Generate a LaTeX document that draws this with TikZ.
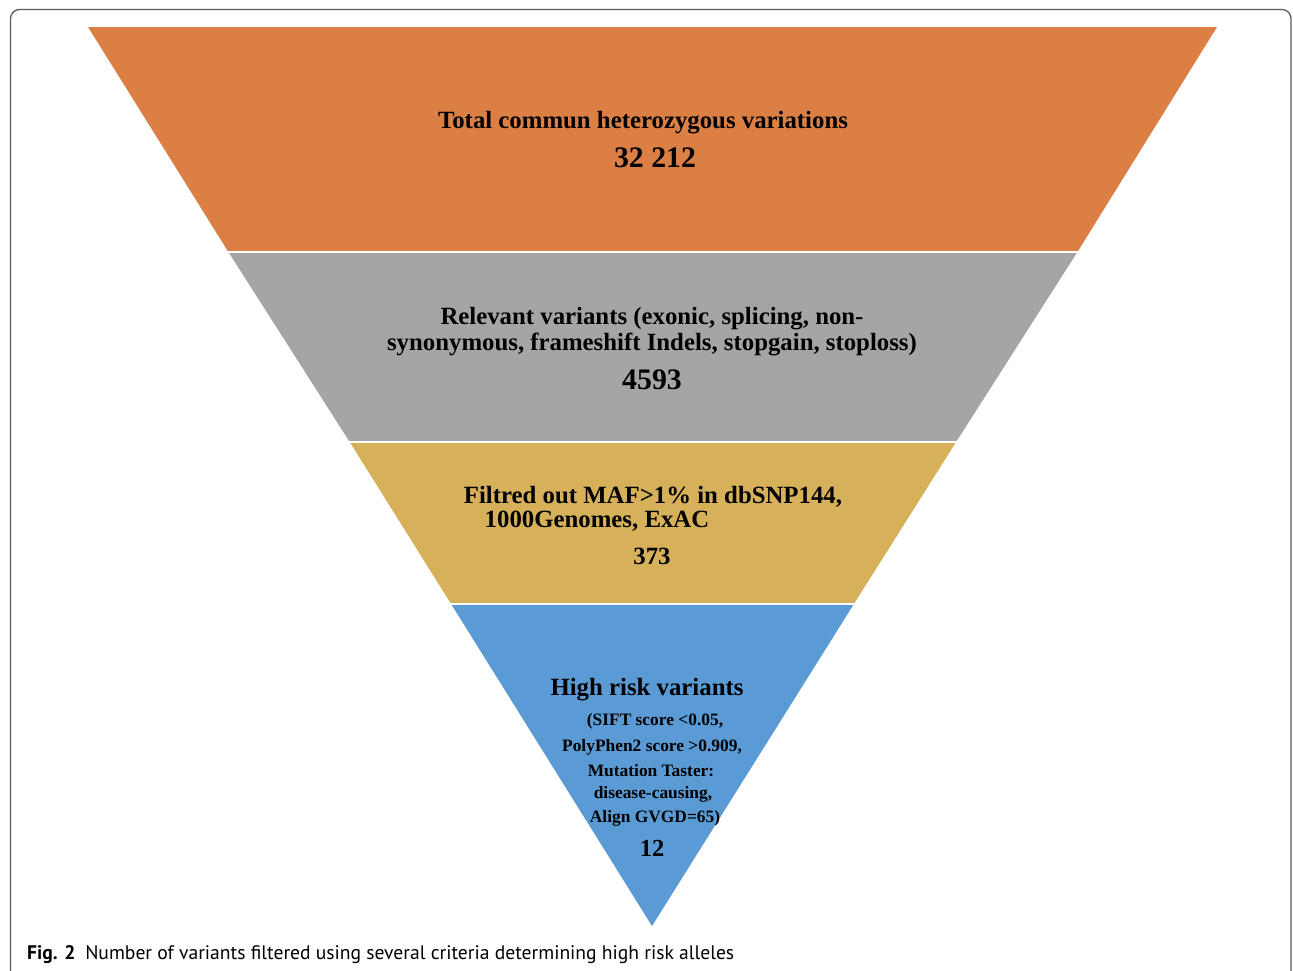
\documentclass[tikz,border=0pt]{standalone}
\usepackage{fontspec}
\setmainfont{Liberation Serif}
\newfontfamily\capfont{PT Sans}
\definecolor{cOrange}{HTML}{DC7F45}
\definecolor{cGray}{HTML}{A5A5A5}
\definecolor{cGold}{HTML}{D7B15A}
\definecolor{cBlue}{HTML}{5B9BD5}
\definecolor{cFrame}{HTML}{5A5A5A}
\tikzset{
  lab/.style={font=\bfseries\fontsize{24.8}{28}\selectfont, inner sep=0pt, anchor=center},
  big/.style={font=\bfseries\fontsize{29.8}{34}\selectfont, inner sep=0pt, anchor=center},
  small/.style={font=\bfseries\fontsize{17.4}{20}\selectfont, inner sep=0pt, anchor=center},
  gap/.style={draw=white, line width=2.5pt}
}
\begin{document}
\begin{tikzpicture}[x=1pt,y=-1pt]
\useasboundingbox (0,0) rectangle (1293,970);
% frame
\begin{scope}
\clip (0,0) rectangle (1293,970);
\draw[cFrame, line width=1.3pt, rounded corners=9pt] (10.5,9.5) rectangle (1291,1010);
\end{scope}
% funnel
\coordinate (AP) at (652,926);
\fill[cOrange] (88,27) -- (1217,27) -- (1077.4,252) -- (228.4,252) -- cycle;
\fill[cGray] (228.4,252) -- (1077.4,252) -- (956.1,442) -- (349.7,442) -- cycle;
\fill[cGold] (349.7,442) -- (956.1,442) -- (853.9,604) -- (451.1,604) -- cycle;
\fill[cBlue] (451.1,604) -- (853.9,604) -- (AP) -- cycle;
\draw[gap] (200,252) -- (1100,252);
\draw[gap] (300,442) -- (1000,442);
\draw[gap] (400,604) -- (900,604);
% texts
\node[lab] (t1) at (643,123) {Total commun heterozygous variations};
\node[big] (n1) at (655,158) {32 212};
\node[lab] (t2a) at (652,319) {Relevant variants (exonic, splicing, non-};
\node[lab] (t2b) at (652,344) {synonymous, frameshift Indels, stopgain, stoploss)};
\node[big] (n2) at (652,380) {4593};
\node[lab] (t3a) at (653,496.5) {Filtred out MAF>1\% in dbSNP144,};
\node[lab] (t3b) at (597,521.5) {1000Genomes, ExAC};
\node[lab] (n3) at (652,556) {373};
\node[lab] (t4) at (647,690) {High risk variants};
\node[small] (t4a) at (655,721) {(SIFT score <0.05,};
\node[small] (t4b) at (652,747) {PolyPhen2 score >0.909,};
\node[small] (t4c) at (651,771) {Mutation Taster:};
\node[small] (t4d) at (653,794) {disease-causing,};
\node[small] (t4e) at (655,818) {Align GVGD=65)};
\node[big, font=\bfseries\fontsize{24.5}{28}\selectfont] (n4) at (652,848) {12};
% caption
\node[inner sep=0pt, anchor=base west, font=\capfont\fontsize{19.6}{22}\selectfont] (cap) at (27,959)
  {\textbf{Fig. 2}\hspace{0.5em}Number of variants filtered using several criteria determining high risk alleles};
\end{tikzpicture}
\end{document}
